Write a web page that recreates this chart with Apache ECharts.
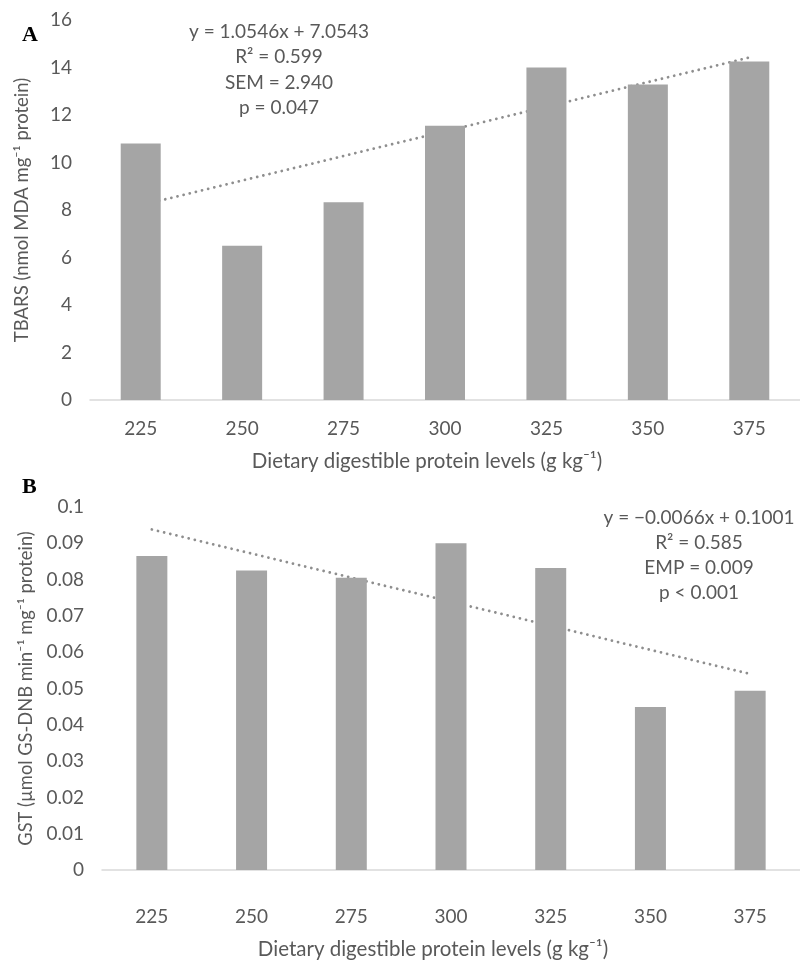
<!DOCTYPE html>
<html><head><meta charset="utf-8">
<script src="https://cdn.jsdelivr.net/npm/echarts@6/dist/echarts.min.js"></script>
<style>html,body{margin:0;padding:0;background:#fff}#c{width:800px;height:963px}</style>
</head><body><div id="c"></div>
<script>
const categories = ['225','250','275','300','325','350','375'];
const tbars = [10.8, 6.5, 8.33, 11.55, 14.0, 13.28, 14.25];
const gst = [0.0865, 0.0825, 0.0805, 0.0900, 0.0832, 0.0449, 0.0494];
const trendA = [8.2, 14.42];   // trend line at first and last level
const trendB = [0.0938, 0.0540];
const ticksA = {min: 0, max: 16, interval: 2};
const ticksB = {min: 0, max: 0.1, interval: 0.01};
const annotA = ['y = 1.0546x + 7.0543', 'R² = 0.599', 'SEM = 2.940', 'p = 0.047'];
const annotB = ['y = −0.0066x + 0.1001', 'R² = 0.585', 'EMP = 0.009', 'p < 0.001'];
const xTitle = 'Dietary digestible protein levels (g kg⁻¹)';
const yTitleA = 'TBARS (nmol MDA mg⁻¹ protein)';
const yTitleB = 'GST (µmol GS-DNB min⁻¹ mg⁻¹ protein)';

const FONT = 'Lato';
const TXT = '#595959';
const chart = echarts.init(document.getElementById('c'));
function xAx(gi, margin, gap){
  return {type:'category', gridIndex:gi, data:categories,
    axisLine:{lineStyle:{color:'#d9d9d9', width:1.5}}, axisTick:{show:false},
    axisLabel:{color:TXT, fontFamily:FONT, fontSize:19, margin:margin},
    name:xTitle, nameLocation:'middle', nameGap:gap,
    nameTextStyle:{color:TXT, fontFamily:FONT, fontSize:20.5, padding:[0,36,0,0]}};
}
function yAx(gi, t, name, gap, fs){
  return {type:'value', gridIndex:gi, min:t.min, max:t.max, interval:t.interval,
    splitLine:{show:false}, axisLine:{show:false}, axisTick:{show:false},
    axisLabel:{color:TXT, fontFamily:FONT, fontSize:19, margin:18},
    name:name, nameLocation:'middle', nameGap:gap,
    nameTextStyle:{color:TXT, fontFamily:FONT, fontSize:fs}};
}
const dotStyle = {color:'#8e8e8e', width:2.8, type:[0.01,6.3], cap:'round'};
chart.setOption({
  animation:false,
  grid:[{left:90, top:20, width:718, height:380},
        {left:102, top:507, width:709, height:363}],
  xAxis:[xAx(0, 19, 51), xAx(1, 37, 69)],
  yAxis:[yAx(0, ticksA, yTitleA, 58, 18.5), yAx(1, ticksB, yTitleB, 60, 18.3)],
  series:[
    {type:'line', xAxisIndex:0, yAxisIndex:0, z:1, symbol:'none',
     data:[[categories[0], trendA[0]], [categories[6], trendA[1]]], lineStyle:dotStyle},
    {type:'bar', xAxisIndex:0, yAxisIndex:0, z:2, data:tbars, barWidth:40,
     itemStyle:{color:'#a5a5a5'}},
    {type:'line', xAxisIndex:1, yAxisIndex:1, z:1, symbol:'none',
     data:[[categories[0], trendB[0]], [categories[6], trendB[1]]], lineStyle:dotStyle},
    {type:'bar', xAxisIndex:1, yAxisIndex:1, z:2, data:gst, barWidth:31,
     itemStyle:{color:'#a5a5a5'}}
  ],
  graphic:[
    {type:'text', left:22, top:24, style:{text:'A', font:'bold 22px "Liberation Serif"', fill:'#000'}},
    {type:'text', left:22, top:476, style:{text:'B', font:'bold 22px "Liberation Serif"', fill:'#000'}},
    {type:'text', x:279, y:19, style:{text:annotA.join('\n'), align:'center', fill:TXT,
      font:'19px Lato', lineHeight:25.5}},
    {type:'text', x:699, y:505, style:{text:annotB.join('\n'), align:'center', fill:TXT,
      font:'19px Lato', lineHeight:25}}
  ]
});
</script></body></html>
